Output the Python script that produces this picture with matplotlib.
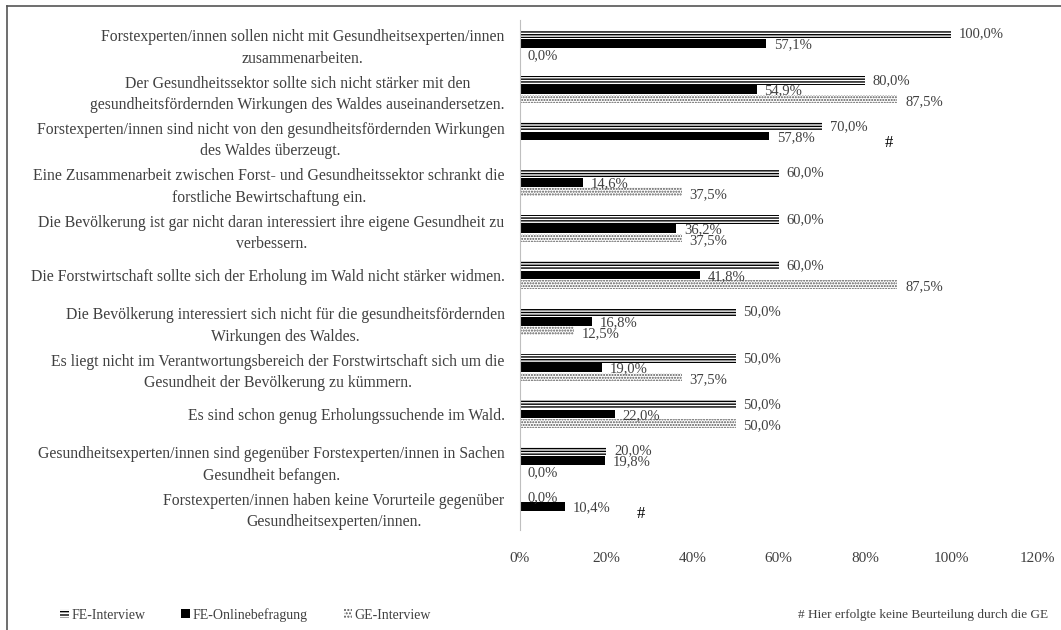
import matplotlib
matplotlib.use("Agg")
import matplotlib.pyplot as plt
from matplotlib.patches import Patch
from matplotlib.lines import Line2D
import numpy as np

plt.rcParams['font.family'] = ['Liberation Serif', 'DejaVu Serif']
plt.rcParams['hatch.linewidth'] = 1.0

aussagen = [
    "Forstexperten/innen sollen nicht mit Gesundheitsexperten/innen\nzusammenarbeiten.",
    "Der Gesundheitssektor sollte sich nicht stärker mit den\ngesundheitsfördernden Wirkungen des Waldes auseinandersetzen.",
    "Forstexperten/innen sind nicht von den gesundheitsfördernden Wirkungen\ndes Waldes überzeugt.",
    "Eine Zusammenarbeit zwischen Forst- und Gesundheitssektor schrankt die\nforstliche Bewirtschaftung ein.",
    "Die Bevölkerung ist gar nicht daran interessiert ihre eigene Gesundheit zu\nverbessern.",
    "Die Forstwirtschaft sollte sich der Erholung im Wald nicht stärker widmen.",
    "Die Bevölkerung interessiert sich nicht für die gesundheitsfördernden\nWirkungen des Waldes.",
    "Es liegt nicht im Verantwortungsbereich der Forstwirtschaft sich um die\nGesundheit der Bevölkerung zu kümmern.",
    "Es sind schon genug Erholungssuchende im Wald.",
    "Gesundheitsexperten/innen sind gegenüber Forstexperten/innen in Sachen\nGesundheit befangen.",
    "Forstexperten/innen haben keine Vorurteile gegenüber\nGesundheitsexperten/innen.",
]
fe_interview = [100.0, 80.0, 70.0, 60.0, 60.0, 60.0, 50.0, 50.0, 50.0, 20.0, 0.0]
fe_online = [57.1, 54.9, 57.8, 14.6, 36.2, 41.8, 16.8, 19.0, 22.0, 19.8, 10.4]
ge_interview = [0.0, 87.5, None, 37.5, 37.5, 87.5, 12.5, 37.5, 50.0, 0.0, None]
# Position des "#" (keine Beurteilung durch GE)
raute_x = {2: 84.5, 10: 27.0}

fig = plt.figure(figsize=(10.61, 6.3), dpi=100)
ax = fig.add_axes([0.490, 0.159, 0.488, 0.809])

y = np.arange(len(aussagen))
h = 0.19
grau = '#404040'

def fmt(v):
    return f"{v:.1f}%".replace('.', ',')

ax.barh(y - 0.2, fe_interview, height=h, color='white', edgecolor='black',
        hatch='------', linewidth=0)
ax.barh(y, fe_online, height=h, color='black', linewidth=0)
ge_vals = [v if v is not None else 0 for v in ge_interview]
ax.barh(y + 0.2, ge_vals, height=h, color='white', edgecolor='#555555',
        hatch='......', linewidth=0)

for i in range(len(aussagen)):
    ax.text(fe_interview[i] + 1.8, y[i] - 0.2, fmt(fe_interview[i]), va='center',
            ha='left', fontsize=10.5, color=grau)
    ax.text(fe_online[i] + 1.8, y[i] + 0.03, fmt(fe_online[i]), va='center',
            ha='left', fontsize=10.5, color=grau)
    if ge_interview[i] is not None:
        ax.text(ge_interview[i] + 1.8, y[i] + 0.26, fmt(ge_interview[i]),
                va='center', ha='left', fontsize=10.5, color=grau)
for i, xr in raute_x.items():
    ax.text(xr, y[i] + 0.15, '#', va='center', ha='left', fontsize=12,
            color='black')

ax.set_xlim(0, 120)
ax.set_ylim(len(aussagen) - 0.5, -0.5)
ax.set_xticks(np.arange(0, 121, 20))
ax.set_xticklabels([f"{t}%" for t in range(0, 121, 20)], fontsize=11, color=grau)
ax.set_yticks(y)
ax.set_yticklabels(aussagen, fontsize=11.3, color=grau, multialignment='center',
                   linespacing=1.45)
ax.tick_params(axis='both', length=0)
ax.tick_params(axis='x', pad=16)
ax.tick_params(axis='y', pad=11)
for s in ['top', 'right', 'bottom']:
    ax.spines[s].set_visible(False)
ax.spines['left'].set_color('#bfbfbf')

handles = [
    Patch(facecolor='white', edgecolor='black', hatch='-----', linewidth=0),
    Patch(facecolor='black', linewidth=0),
    Patch(facecolor='white', edgecolor='#555555', hatch='.....', linewidth=0),
]
fig.legend(handles, ['FE-Interview', 'FE-Onlinebefragung', 'GE-Interview'],
           loc='center left', bbox_to_anchor=(0.045, 0.024), ncol=3,
           frameon=False, fontsize=10, handlelength=0.6, handleheight=0.6,
           handletextpad=0.2, columnspacing=2.6, labelcolor=grau)
fig.text(0.988, 0.024, '# Hier erfolgte keine Beurteilung durch die GE',
         ha='right', va='center', fontsize=9.5, color=grau)

# Rahmen oben und links
fig.add_artist(Line2D([0.0066, 0.0066], [0, 0.99], transform=fig.transFigure,
                      color='#555555', linewidth=1.2))
fig.add_artist(Line2D([0.0066, 1.0], [0.99, 0.99], transform=fig.transFigure,
                      color='#555555', linewidth=1.2))

fig.savefig('out.png', dpi=100)
